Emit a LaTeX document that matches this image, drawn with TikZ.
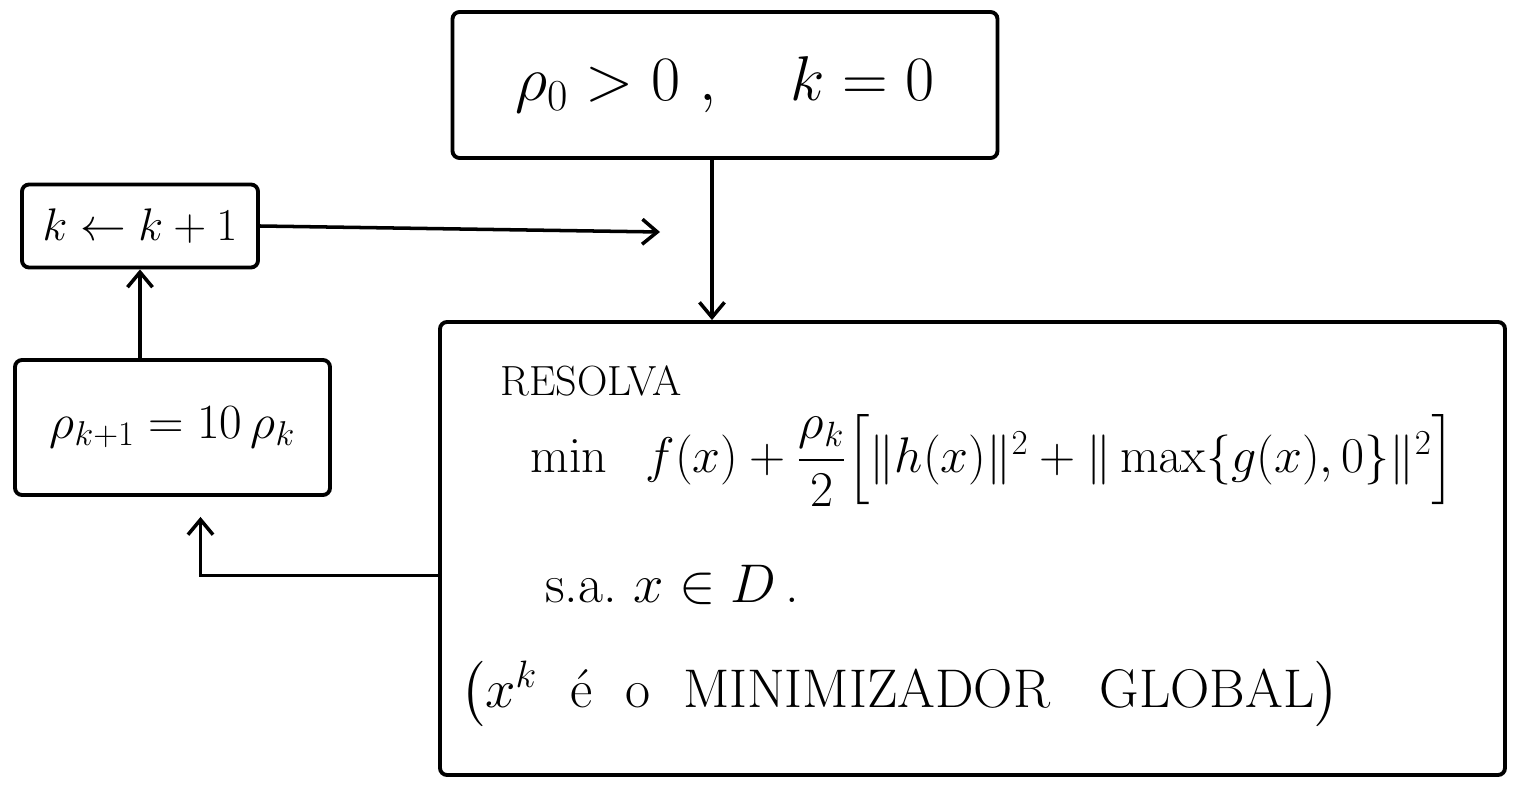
\RequirePackage{fix-cm}
\documentclass[tikz,border=0pt]{standalone}
\usepackage{amsmath,amssymb}
\usetikzlibrary{arrows.meta,positioning}

\begin{document}
\begin{tikzpicture}[
  arrow/.style={-{Straight Barb[length=3mm,width=5mm]},line width=2pt},
  box/.style={draw,line width=2.2pt,rounded corners=4pt,inner sep=0pt},
  label/.style={anchor=base west,inner sep=0pt}
]
  \useasboundingbox (0,0) rectangle (30.34,-15.74);

  \node[box,minimum width=10.9cm,minimum height=2.92cm,
    font=\fontsize{36}{42}\selectfont] (init) at (14.5,-1.7)
    {$\rho_0 > 0\ ,\quad k = 0$};
  \node[box,minimum width=4.72cm,minimum height=1.66cm,
    font=\fontsize{26}{30}\selectfont] (inc) at (2.8,-4.52)
    {$k \leftarrow k+1$};
  \node[box,minimum width=6.3cm,minimum height=2.7cm,
    font=\fontsize{28}{32}\selectfont] (upd) at (3.45,-8.55)
    {$\rho_{k+1} = 10\,\rho_k$};
  \node[box,minimum width=21.3cm,minimum height=9.06cm] (solve)
    at (19.45,-10.97) {};

  \node[label,font=\fontsize{24}{28}\selectfont] (resolva) at (10,-7.9)
    {RESOLVA};
  \node[label,font=\fontsize{28.5}{33}\selectfont] (prob) at (10.6,-9.45)
    {$\min\ \ f(x) + \dfrac{\rho_k}{2}\Big[\|h(x)\|^2
      + \|\max\{g(x),0\}\|^2\Big]$};
  \node[label,font=\fontsize{31}{36}\selectfont] (constr) at (10.9,-12.05)
    {s.a.\ $x \in D$\,.};
  \node[label,font=\fontsize{31}{36}\selectfont] (note) at (9.2,-14.15)
    {$\big(x^k$\ \ é\ \ o\ \ MINIMIZADOR\ \ \ GLOBAL$\big)$};

  \coordinate (join) at (13.2,-4.64);
  \draw[arrow] ([xshift=-0.26cm]init.south)
    -- ([xshift=-0.26cm]init.south |- solve.north);
  \draw[arrow] (inc.east) -- (join);
  \draw[arrow] (upd.north -| inc.south) -- (inc.south);
  \draw[arrow,shorten >=0.4cm] ([yshift=-0.54cm]solve.west)
    -| ([xshift=0.56cm]upd.south);
\end{tikzpicture}
\end{document}
